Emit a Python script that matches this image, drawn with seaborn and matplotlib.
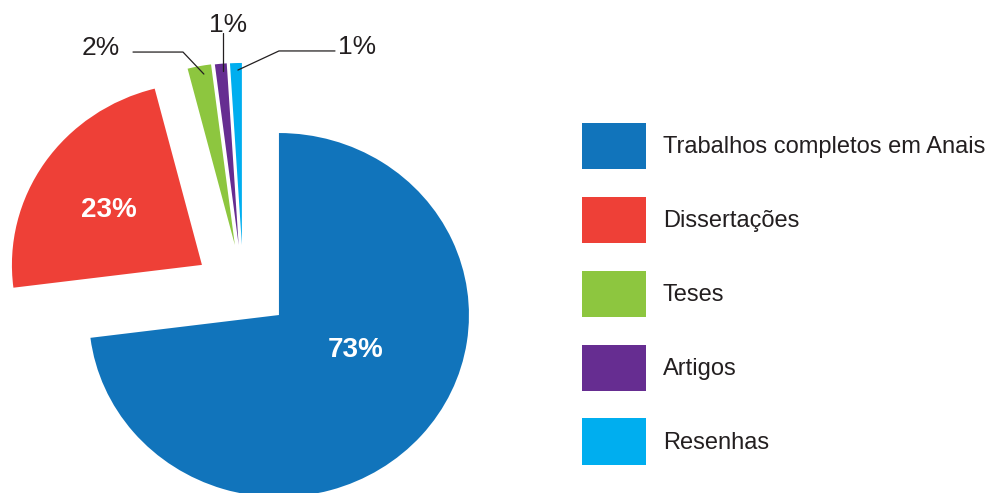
import matplotlib
matplotlib.use("Agg")
import matplotlib.pyplot as plt
import seaborn as sns

categories = ["Trabalhos completos em Anais", "Dissertações", "Teses", "Artigos", "Resenhas"]
shares = [73, 23, 2, 1, 1]
pct_labels = ["73%", "23%", "2%", "1%", "1%"]

colors = ["#1174BB", "#EE4037", "#8DC63F", "#662D91", "#00AEEF"]

sns.set_style("white")
plt.rcParams["font.family"] = ["Liberation Sans", "DejaVu Sans"]

fig = plt.figure(figsize=(9.97, 4.93), dpi=100)
ax = fig.add_axes([0, 0, 1, 1])

explode = [0, 0.49, 0, 0, 0]
wedges, _ = ax.pie(shares, colors=colors, startangle=90, counterclock=False,
                   explode=explode, wedgeprops=dict(linewidth=0))

# manual shift of the three small slices (as in the reference)
small_offsets = {2: (-0.232, 0.385), 3: (-0.212, 0.385), 4: (-0.195, 0.385)}
for i, off in small_offsets.items():
    wedges[i].set_center(off)

ax.set_aspect("auto")
ax.set_xlim(-1.468, 3.779)
ax.set_ylim(-0.978, 1.731)
ax.axis("off")

# inside labels
ax.text(0.405, -0.19, pct_labels[0], color="white", fontsize=20, fontweight="bold",
        ha="center", va="center")
ax.text(-0.897, 0.577, pct_labels[1], color="white", fontsize=20, fontweight="bold",
        ha="center", va="center")

# outside labels with leader lines
lc = "#231F20"
ax.plot([-0.768, -0.505, -0.395], [1.445, 1.445, 1.324], color=lc, lw=0.9)
ax.plot([-0.295, -0.295], [1.549, 1.341], color=lc, lw=0.9)
ax.plot([0.295, 0.0, -0.216], [1.451, 1.451, 1.346], color=lc, lw=0.9)
ax.text(-0.939, 1.467, pct_labels[2], color=lc, fontsize=19, ha="center", va="center")
ax.text(-0.268, 1.596, pct_labels[3], color=lc, fontsize=19, ha="center", va="center")
ax.text(0.413, 1.475, pct_labels[4], color=lc, fontsize=19, ha="center", va="center")

fig.legend(wedges, categories, loc="upper left", bbox_to_anchor=(582 / 997, (493 - 123) / 493),
           frameon=False, fontsize=17, handlelength=2.71, handleheight=2.65,
           labelspacing=1.16, handletextpad=0.72, borderpad=0, borderaxespad=0,
           labelcolor="#231F20")

fig.savefig("out.png", dpi=100)
